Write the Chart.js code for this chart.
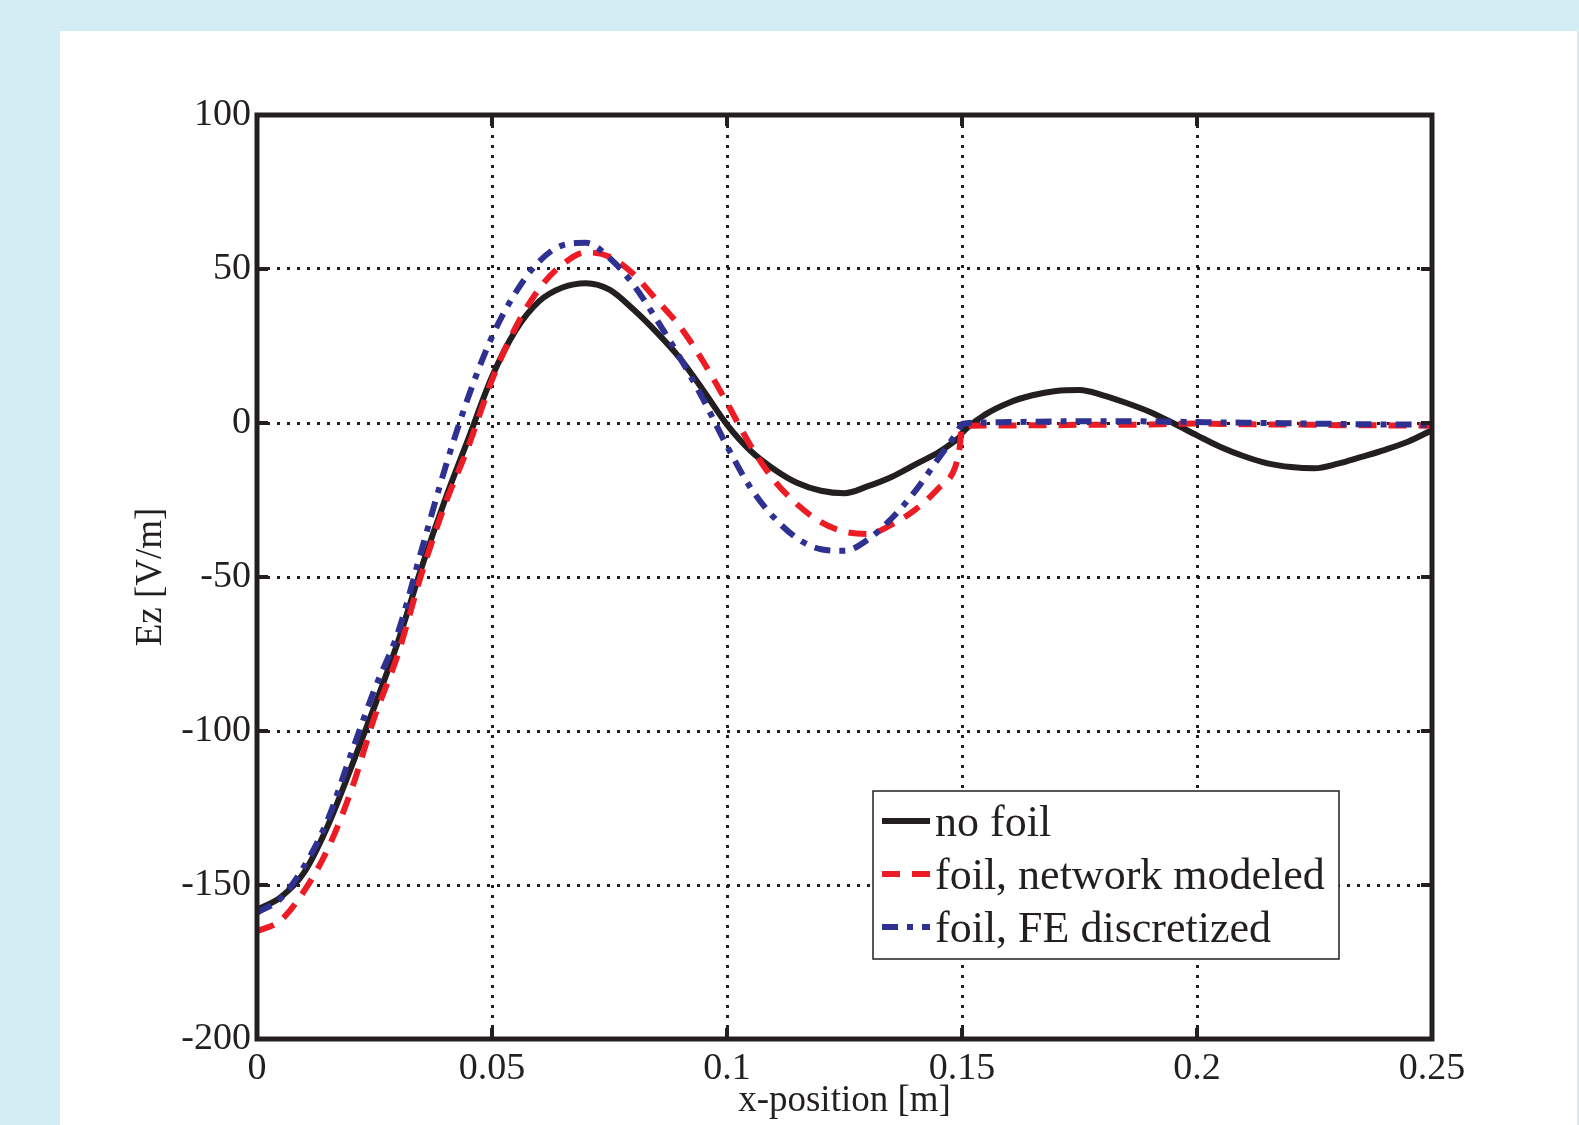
<!DOCTYPE html>
<html>
<head>
<meta charset="utf-8">
<title>Ez along x</title>
<script src="https://cdn.jsdelivr.net/npm/chart.js@4.4.1/dist/chart.umd.min.js"></script>
<style>
  body { margin: 0; background: #d4edf4; }
  #panel { position: absolute; left: 60px; top: 31px; width: 1517px; height: 1094px; background: #fff; }
</style>
</head>
<body>
<div id="panel"><canvas id="ezChart" width="1517" height="1094"></canvas></div>
<script>
// Ez [V/m] versus x-position [m]

const xPos = [0, 0.005, 0.01, 0.015, 0.02, 0.025, 0.03, 0.035, 0.04, 0.045,
  0.05, 0.055, 0.06, 0.065, 0.07, 0.075, 0.08, 0.085, 0.09, 0.095,
  0.1, 0.105, 0.11, 0.115, 0.12, 0.125, 0.13, 0.135, 0.14, 0.145,
  0.1485, 0.1495, 0.15, 0.155, 0.16, 0.165, 0.17, 0.175, 0.18, 0.185,
  0.19, 0.195, 0.2, 0.205, 0.21, 0.215, 0.22, 0.225, 0.23, 0.235,
  0.24, 0.245, 0.25];

const noFoil = [-158, -154, -146, -131, -112, -92, -71, -47, -25, -5,
  15, 30, 39.5, 44, 45.4, 43.3, 37, 29.5, 21, 10.5,
  -0.5, -9, -15, -19.5, -22, -22.8, -20.5, -17.5, -13.5, -9.5,
  -5.8, -4.5, -3.3, 2.8, 6.6, 9, 10.4, 10.7, 9, 6.5,
  3.6, -0.1, -4, -7.8, -10.8, -13.1, -14.3, -14.7, -13.2, -11,
  -8.7, -6, -2.3];

const foilNetwork = [-165, -161.5, -152, -138.5, -119.5, -95.5, -75, -49, -26.5, -7.5,
  14, 31, 43.5, 51.5, 55.4, 54, 48.5, 40, 31.3, 19.8,
  6.5, -7.3, -18.6, -26.5, -32.2, -35.3, -36, -33, -28.2, -21.2,
  -14.5, -8, -1.2, -0.8, -0.8, -0.7, -0.7, -0.6, -0.6, -0.6,
  -0.5, -0.3, -0.2, -0.3, -0.4, -0.5, -0.5, -0.6, -0.7, -0.7,
  -0.8, -0.8, -0.9];

const foilFE = [-159, -154.4, -144, -129, -107.5, -86.5, -68, -41.3, -14.8, 8.6,
  28, 42.3, 52.4, 57.7, 58.5, 53.6, 45.1, 33.6, 21.2, 7.5,
  -7.5, -21, -30.7, -37.5, -41, -41.5, -37.8, -31, -22.2, -11.5,
  -4, -1.5, -0.3, 0.2, 0.3, 0.4, 0.5, 0.6, 0.6, 0.6,
  0.5, 0.4, 0.3, 0.2, 0.1, 0, -0.1, -0.2, -0.3, -0.4,
  -0.5, -0.5, -0.6];

const xTicks = [0, 0.05, 0.1, 0.15, 0.2, 0.25];
const yTicks = [-200, -150, -100, -50, 0, 50, 100];

const seriesNames = ['no foil', 'foil, network modeled', 'foil, FE discretized'];

const INK = '#231f20';
const RED = '#ed1c24';
const BLUE = '#2e3192';
const FONT = "'Liberation Serif', 'Times New Roman', serif";

const pts = ys => xPos.map((x, i) => ({ x, y: ys[i] }));

// MATLAB style box with inward tick marks on all four sides
const boxFrame = {
  id: 'boxFrame',
  afterDatasetsDraw(chart) {
    const { ctx, chartArea: a, scales: { x, y } } = chart;
    ctx.save();
    ctx.strokeStyle = INK;
    ctx.lineWidth = 4;
    ctx.beginPath();
    xTicks.forEach(v => {
      const px = x.getPixelForValue(v);
      ctx.moveTo(px, a.bottom); ctx.lineTo(px, a.bottom - 11);
      ctx.moveTo(px, a.top);    ctx.lineTo(px, a.top + 11);
    });
    yTicks.forEach(v => {
      const py = y.getPixelForValue(v);
      ctx.moveTo(a.left, py);  ctx.lineTo(a.left + 11, py);
      ctx.moveTo(a.right, py); ctx.lineTo(a.right - 11, py);
    });
    ctx.stroke();
    ctx.lineWidth = 5;
    ctx.strokeRect(a.left, a.top, a.right - a.left, a.bottom - a.top);
    ctx.restore();
  }
};

// legend box in the lower right of the axes
const boxLegend = {
  id: 'boxLegend',
  afterDraw(chart) {
    const { ctx, chartArea: a } = chart;
    const w = 466, h = 168;
    const left = a.right - 93 - w;
    const top = a.bottom - 80 - h;
    ctx.save();
    ctx.fillStyle = '#fff';
    ctx.fillRect(left, top, w, h);
    ctx.strokeStyle = INK;
    ctx.lineWidth = 1.5;
    ctx.strokeRect(left, top, w, h);
    chart.data.datasets.forEach((ds, i) => {
      const rowY = top + 30 + i * 53;
      ctx.beginPath();
      ctx.strokeStyle = ds.borderColor;
      ctx.lineWidth = ds.borderWidth;
      ctx.setLineDash(ds.borderDash || []);
      ctx.moveTo(left + 9, rowY);
      ctx.lineTo(left + 57, rowY);
      ctx.stroke();
      ctx.setLineDash([]);
      ctx.fillStyle = INK;
      ctx.font = '44px ' + FONT;
      ctx.textBaseline = 'alphabetic';
      ctx.fillText(ds.label, left + 62, rowY + 15);
    });
    ctx.restore();
  }
};

const ctx = document.getElementById('ezChart').getContext('2d');

new Chart(ctx, {
  type: 'line',
  data: {
    datasets: [
      {
        label: seriesNames[0],
        data: pts(noFoil),
        borderColor: INK,
        borderWidth: 6,
        order: 3,
      },
      {
        label: seriesNames[1],
        data: pts(foilNetwork),
        borderColor: RED,
        borderWidth: 6,
        borderDash: [18, 12],
        order: 2,
      },
      {
        label: seriesNames[2],
        data: pts(foilFE),
        borderColor: BLUE,
        borderWidth: 6,
        borderDash: [16, 9, 6, 9],
        order: 1,
      }
    ]
  },
  options: {
    responsive: false,
    animation: false,
    layout: { padding: { top: 84, right: 145, left: 0, bottom: 0 } },
    elements: {
      point: { radius: 0 },
      line: { cubicInterpolationMode: 'monotone', borderCapStyle: 'butt', fill: false }
    },
    plugins: {
      legend: { display: false },
      tooltip: { enabled: false }
    },
    scales: {
      x: {
        type: 'linear',
        min: 0,
        max: 0.25,
        afterFit: s => { s.height = 86; },
        afterBuildTicks: s => { s.ticks = xTicks.map(v => ({ value: v })); },
        grid: { color: INK, lineWidth: 3, drawTicks: false },
        border: { display: false, dash: [3, 7] },
        ticks: {
          color: INK,
          padding: 7,
          maxRotation: 0,
          autoSkip: false,
          font: { family: FONT, size: 38 },
          callback: v => String(+v.toFixed(2))
        },
        title: {
          display: true,
          text: 'x-position [m]',
          color: INK,
          font: { family: FONT, size: 37, lineHeight: 1 },
          padding: { top: 0, bottom: 5 }
        }
      },
      y: {
        min: -200,
        max: 100,
        afterFit: s => { s.width = 197; },
        afterBuildTicks: s => { s.ticks = yTicks.map(v => ({ value: v })); },
        grid: { color: INK, lineWidth: 3, drawTicks: false },
        border: { display: false, dash: [3, 7] },
        ticks: {
          color: INK,
          padding: 6,
          font: { family: FONT, size: 38 },
          callback: v => String(v)
        },
        title: {
          display: true,
          text: 'Ez [V/m]',
          color: INK,
          font: { family: FONT, size: 37, lineHeight: 1 },
          padding: { top: 73, bottom: 0 }
        }
      }
    }
  },
  plugins: [boxFrame, boxLegend]
});
</script>
</body>
</html>
